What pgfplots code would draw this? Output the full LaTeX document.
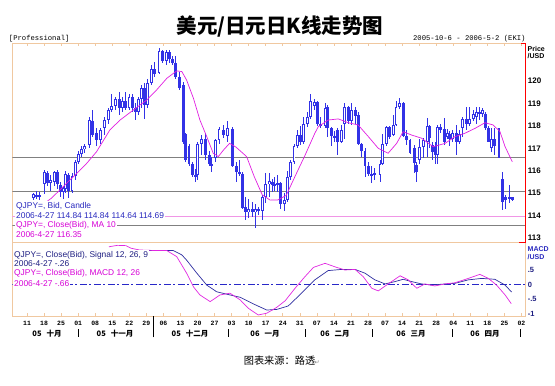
\documentclass[border=0pt]{standalone}
\usepackage{pgfplots}
\pgfplotsset{compat=1.18}
\usepackage{pgfplotstable}
\usepackage{fontspec}
\setmainfont{Liberation Sans}
\newfontfamily\mono{Liberation Mono}
\newfontfamily\cjk{Noto Sans CJK SC}
\newfontfamily\dejavu{DejaVu Sans}

\definecolor{frame}{RGB}{240,200,160}
\definecolor{cblue}{RGB}{50,50,230}
\definecolor{mamag}{RGB}{225,30,225}
\definecolor{sigblue}{RGB}{45,45,160}
\definecolor{macdmag}{RGB}{225,40,225}
\definecolor{gline}{RGB}{128,128,128}
\definecolor{pline}{RGB}{240,150,230}
\definecolor{zblue}{RGB}{40,40,200}
\definecolor{txtblue}{RGB}{40,40,190}
\definecolor{txtmag}{RGB}{215,0,215}
\definecolor{txtnavy}{RGB}{30,30,130}

\pgfplotstableread{
x o h l c
0.0 113.70 114.10 113.50 113.95
1.0 113.95 114.30 113.80 114.20
2.0 114.20 114.55 113.95 114.10
3.0 114.10 114.60 114.00 114.45
4.8 114.80 115.00 114.70 114.95
5.7 114.90 115.10 114.75 114.85
6.7 114.85 115.05 114.70 114.90
8.1 115.40 116.05 114.95 115.95
9.1 115.90 116.00 115.30 115.45
10.0 115.45 115.80 115.10 115.60
11.0 115.50 116.00 115.30 115.95
11.9 115.95 116.05 115.20 115.40
12.9 115.35 115.50 114.85 115.05
13.7 115.05 115.30 114.75 115.25
14.4 115.20 116.00 115.00 115.85
15.2 115.80 115.90 114.80 115.10
16.2 115.10 115.90 115.00 115.75
17.2 115.75 116.50 115.60 116.40
18.1 116.40 116.90 116.30 116.75
18.9 116.75 117.10 116.60 116.95
19.9 116.95 117.20 116.80 117.10
21.2 117.15 118.40 117.00 118.25
22.3 118.20 118.70 117.50 117.60
23.5 117.70 117.90 117.10 117.35
24.5 117.35 117.90 117.20 117.80
25.7 117.90 118.40 117.60 118.25
27.0 118.25 118.80 118.10 118.70
27.9 118.70 119.40 118.60 118.90
28.9 118.90 119.30 118.70 119.20
30.0 119.20 119.50 118.50 118.80
31.0 118.80 119.30 118.60 119.10
31.9 119.10 119.50 118.70 118.80
32.9 118.80 119.40 118.70 119.30
33.8 119.30 119.40 118.60 118.80
34.7 118.80 119.00 118.25 118.60
35.6 118.60 119.30 118.50 119.20
36.5 119.20 119.80 118.80 119.70
37.4 119.70 119.90 118.30 118.95
38.4 118.95 120.10 118.80 119.90
39.6 119.90 120.70 119.80 120.55
40.5 120.55 120.85 120.20 120.30
41.7 120.35 121.45 120.30 121.35
42.7 121.35 121.40 120.80 120.90
43.9 120.90 121.40 120.70 121.30
44.8 121.30 121.40 120.80 121.00
45.7 121.00 121.10 120.70 120.80
46.5 120.80 121.10 120.10 120.20
47.6 120.20 120.40 119.60 119.70
48.9 119.80 119.95 117.20 117.30
49.6 117.65 117.70 116.40 116.50
50.5 117.10 117.20 116.20 116.30
51.5 116.30 116.40 115.70 115.80
52.3 115.80 116.10 115.50 115.70
53.0 115.80 117.30 115.60 117.20
54.2 117.20 117.60 116.70 117.40
55.4 117.40 117.70 116.50 116.70
56.4 116.70 116.90 116.20 116.30
57.1 116.30 116.60 115.95 116.20
58.3 116.55 117.40 116.40 117.35
59.3 117.35 117.95 117.20 117.85
60.5 117.80 118.05 117.45 117.60
61.9 117.55 118.20 117.30 117.90
63.2 117.85 117.95 116.15 116.20
64.4 116.20 116.40 115.50 115.95
65.2 115.95 116.50 115.75 115.85
66.1 115.85 115.95 114.30 114.35
67.1 114.40 114.85 113.80 114.15
68.0 114.15 114.75 113.90 114.30
69.1 114.30 114.60 113.95 114.15
70.0 114.15 114.50 113.45 114.30
71.0 114.30 114.40 114.05 114.20
72.0 114.20 114.90 113.80 114.85
73.0 114.85 115.90 114.55 115.40
74.0 115.40 115.90 114.85 115.55
74.9 115.50 115.65 115.05 115.35
75.7 115.35 115.70 115.10 115.40
76.4 115.40 115.80 115.05 115.45
77.4 115.45 115.50 114.30 114.50
78.4 114.50 115.00 114.20 114.70
79.3 114.70 116.00 114.60 115.70
80.3 115.70 116.50 115.60 116.40
81.3 116.40 117.20 116.30 117.10
82.3 117.10 117.80 117.00 117.60
83.2 117.60 118.00 117.15 117.30
84.2 117.30 118.40 117.20 118.10
85.2 118.10 118.60 117.95 118.40
86.2 118.40 119.40 118.30 119.10
87.2 118.90 119.20 118.70 119.05
88.1 119.05 119.10 118.00 118.10
89.1 118.10 118.40 117.90 118.00
90.4 118.00 119.00 117.90 118.80
91.2 118.85 118.95 117.50 117.90
92.3 117.90 117.95 117.10 117.55
93.1 117.55 117.75 117.30 117.45
94.1 117.80 117.90 116.70 117.30
95.3 117.30 118.05 117.25 117.80
96.2 118.10 119.00 117.40 118.85
97.2 118.85 118.90 118.10 118.20
98.2 118.20 119.00 118.05 118.70
99.2 118.70 118.85 118.10 118.45
100.1 118.50 118.60 117.15 117.20
101.1 117.20 117.25 116.60 116.90
102.1 116.90 117.00 115.70 116.20
103.1 116.20 116.40 115.75 115.85
104.1 115.85 116.20 115.45 115.80
105.0 115.80 116.10 115.60 115.90
106.5 115.80 116.50 115.50 116.30
107.3 116.30 117.65 116.25 117.20
108.5 117.20 118.00 117.10 117.95
109.4 117.95 118.00 117.40 117.50
110.4 117.60 118.50 117.55 118.05
111.2 118.05 119.10 118.00 118.85
112.2 118.85 119.25 118.75 119.00
113.3 119.00 119.05 117.50 117.55
114.3 117.55 117.80 117.15 117.35
115.3 117.35 117.40 116.75 116.80
116.6 117.00 117.15 115.90 116.35
117.3 116.25 116.40 115.50 115.95
118.2 116.50 117.40 116.30 117.05
119.2 117.05 117.45 116.55 117.35
120.4 117.30 118.35 116.60 118.00
121.1 118.00 118.05 117.00 117.45
122.0 117.15 117.30 116.50 116.85
122.8 117.10 117.30 116.30 116.70
123.5 116.70 118.05 116.30 117.95
124.3 117.95 118.10 117.70 117.80
125.5 117.85 118.35 117.15 117.30
126.2 117.50 117.85 117.40 117.70
127.0 117.65 117.75 117.10 117.40
127.9 117.40 117.80 117.30 117.70
128.9 117.70 118.05 116.70 117.30
129.9 117.30 117.80 117.20 117.65
130.8 117.90 118.40 117.50 118.30
131.8 118.30 118.85 117.80 118.10
132.8 118.10 118.85 118.00 118.30
133.8 118.30 118.70 118.20 118.55
134.7 118.40 118.85 118.10 118.60
135.7 118.60 118.85 118.25 118.55
136.5 118.55 118.80 118.40 118.70
137.5 118.55 118.60 117.80 117.90
138.2 117.90 118.00 117.30 117.30
139.1 117.00 117.90 116.85 117.40
140.1 117.40 117.90 116.70 117.10
141.4 117.90 117.90 116.55 116.55
142.4 115.65 115.95 114.25 114.60
143.2 114.85 114.90 114.30 114.70
144.5 114.75 115.35 114.55 114.85
145.3 114.84 114.84 114.64 114.69
}\candles

\begin{document}
\begin{tikzpicture}[x=1pt,y=1pt]
\useasboundingbox (0,0) rectangle (555,386);

% ---------------- price panel ----------------
\begin{axis}[
  at={(12.3pt,143.7pt)}, anchor=south west, scale only axis,
  width=513.4pt, height=199pt,
  xmin=-1.32, xmax=149.24, ymin=112.81, ymax=121.68,
  axis line style={draw=frame, line width=0.8pt},
  xtick={3,8,...,148}, xticklabels={}, xtick pos=right,
  ytick={113,114,...,120}, yticklabels={113,114,115,116,117,118,119,120},
  ytick pos=right, yticklabel pos=right,
  tick align=inside, major tick length=3pt,
  xtick style={draw=frame, line width=0.6pt},
  ytick style={draw=none},
  yticklabel style={font=\fontsize{8}{9}\selectfont\bfseries, anchor=west, inner xsep=0pt, xshift=2pt},
]
\addplot[gline, line width=0.8pt] coordinates {(-2,116.6) (150,116.6)};
\addplot[gline, line width=0.8pt] coordinates {(-2,115.07) (150,115.07)};
\addplot[gline, line width=0.8pt] coordinates {(-2,113.57) (150,113.57)};
\addplot[pline, line width=0.8pt] coordinates {(-2,113.95) (150,113.95)};
% wicks
\addplot[draw=none, mark=none, error bars/.cd, y dir=both, y explicit, error mark=none,
  error bar style={draw=cblue, line width=0.9pt}]
  table[x=x, y expr={(\thisrow{h}+\thisrow{l})/2}, y error expr={(\thisrow{h}-\thisrow{l})/2}] {\candles};
% bodies
\addplot[draw=none, mark=none, error bars/.cd, y dir=both, y explicit, error mark=none,
  error bar style={draw=cblue, line width=2.9pt}]
  table[x=x, y expr={(\thisrow{o}+\thisrow{c})/2}, y error expr={max(abs(\thisrow{c}-\thisrow{o})/2,0.025)}] {\candles};
% hollow inside of rising candles
\addplot[draw=none, mark=none, restrict expr to domain={\thisrow{c}-\thisrow{o}}{0.15:100},
  error bars/.cd, y dir=both, y explicit, error mark=none,
  error bar style={draw=white, line width=0.9pt}]
  table[x=x, y expr={(\thisrow{o}+\thisrow{c})/2}, y error expr={(\thisrow{c}-\thisrow{o})/2-0.045}] {\candles};
% MA 10
\addplot[mamag, line width=0.7pt] coordinates {
(9.0,114.65) (10.2,114.78) (15.6,115.59) (17.6,115.88) (20.5,116.33) (23.4,116.85) (27.3,117.82)
(30.3,118.26) (34.2,118.71) (38.1,119.15) (41.0,119.6) (44.0,120.12) (46.9,120.45)
(48.4,120.42) (49.8,120.04) (51.8,119.23) (53.7,118.26) (55.7,117.52) (57.6,116.78)
(59.1,116.63) (60.6,116.92) (62.4,117.22) (64.3,117.05) (67.4,116.63) (69.6,115.75)
(72.0,114.92) (74.3,114.69) (76.6,114.70) (79.0,114.90) (81.6,115.75) (84.5,116.68)
(87.4,117.67) (88.4,117.96) (91.3,118.26) (94.3,118.31) (97.2,118.14) (100.1,118.04)
(103.1,117.52) (106.0,117.00) (108.9,116.78) (111.4,117.22) (113.3,117.74) (115.8,117.59)
(118.7,117.45) (122.1,117.07) (125.6,117.22) (128.5,117.52) (131.4,117.67) (134.4,117.89)
(137.3,118.14) (139.7,118.04) (141.7,117.74) (143.2,117.07) (145.3,116.40)};
\end{axis}

% ---------------- MACD panel ----------------
\begin{axis}[
  at={(12.3pt,69.5pt)}, anchor=south west, scale only axis,
  width=513.4pt, height=74.2pt,
  xmin=-1.32, xmax=149.24, ymin=-1.103, ymax=1.455,
  axis line style={draw=frame, line width=0.8pt},
  xtick={3,8,...,148},
  xticklabels={11,18,25,01,08,15,22,29,06,13,20,27,03,10,17,24,31,07,14,21,28,07,14,21,28,04,11,18,25,02},
  xtick pos=left,
  ytick={-1,-0.5,0,0.5}, yticklabels={-1,-.5,0,.5},
  ytick pos=right, yticklabel pos=right,
  tick align=inside, major tick length=3pt,
  xtick style={draw=frame, line width=0.6pt},
  ytick style={draw=none},
  xticklabel style={font=\mono\bfseries\fontsize{6.5}{7}\selectfont, yshift=-1.5pt},
  yticklabel style={font=\fontsize{7.5}{8}\selectfont\bfseries, text=txtnavy, anchor=west, inner xsep=0pt, xshift=2pt},
]
\addplot[zblue, line width=0.8pt, dash pattern=on 7pt off 2.5pt on 2pt off 2.5pt] coordinates {(-2,0) (150,0)};
\addplot[sigblue, line width=0.7pt] coordinates {
(28,1.10) (31,1.14) (35,1.17) (41.0,1.17) (45.9,1.17) (48.4,1.02) (49.8,0.84) (52.8,0.39)
(55.7,-0.02) (58.6,-0.25) (62.5,-0.36) (65.5,-0.44) (69.4,-0.67) (73.3,-0.88) (76.2,-0.86)
(79.6,-0.74) (83.5,-0.30) (87.4,0.16) (91.3,0.48) (95.3,0.52) (99.2,0.52) (102.1,0.39)
(105.0,0.16) (108.0,0.02) (110.9,0.10) (113.3,0.18) (115.8,0.10) (118.7,0.02) (121.7,-0.02)
(124.6,0.01) (128.5,0.04) (132.4,0.16) (136.3,0.21) (140.2,0.18) (143.2,-0.02) (145.1,-0.26)};
\addplot[macdmag, line width=0.7pt] coordinates {
(27,1.30) (29.5,1.35) (32,1.34) (33.5,1.25) (36,1.19) (41.0,1.17) (44.0,1.17) (46.9,0.96)
(49.8,0.39) (51.8,-0.08) (53.7,-0.36) (56.7,-0.59) (59.6,-0.36) (62.5,-0.30) (65.5,-0.53)
(67.9,-0.82) (70.8,-1.05) (73.3,-0.99) (76.2,-0.79) (78.7,-0.56) (81.6,-0.13) (84.5,0.27)
(87.0,0.59) (90.4,0.73) (93.3,0.61) (96.2,0.50) (99.2,0.52) (101.6,0.27) (104.1,-0.13)
(106.0,-0.22) (108.9,0.02) (112.4,0.30) (114.8,0.16) (117.3,-0.13) (119.7,0.02) (122.6,-0.05)
(125.6,0.02) (128.5,0.06) (132.4,0.21) (135.8,0.35) (138.3,0.21) (140.7,-0.02) (143.2,-0.36)
(145.0,-0.66)};
\end{axis}

% right red price axis
\draw[red, line width=0.9pt] (521,342.7) -- (525.7,342.7) -- (525.7,143.7) -- (519,143.7);

% right labels
\node[anchor=west, inner sep=0pt, font=\fontsize{7}{7}\selectfont\bfseries] at (527.5,337.2) {Price};
\node[anchor=west, inner sep=0pt, font=\fontsize{7}{7}\selectfont\bfseries] at (527.5,329.7) {/USD};
\node[anchor=west, inner sep=0pt, font=\fontsize{7}{7}\selectfont\bfseries, text=txtblue] at (527.5,137.2) {MACD};
\node[anchor=west, inner sep=0pt, font=\fontsize{7}{7}\selectfont\bfseries, text=txtblue] at (527.5,129.3) {/USD};

% legends (price)
\tikzset{leg/.style={anchor=base west, fill=white, inner xsep=1pt, inner ysep=0.4pt,
  text height=6.8pt, text depth=2.2pt, font=\fontsize{8.4}{9}\selectfont}}
\node[leg, text=txtblue] at (15,177.5) {QJPY=, Bid, Candle};
\node[leg, text=txtblue] at (15,167.5) {2006-4-27 114.84 114.84 114.64 114.69};
\node[leg, text=txtmag] at (15,158.0) {QJPY=, Close(Bid), MA 10};
\node[leg, text=txtmag] at (15,148.3) {2006-4-27 116.35};
% legends (MACD)
\node[leg, text=txtnavy] at (13,128.7) {QJPY=, Close(Bid), Signal 12, 26, 9};
\node[leg, text=txtnavy] at (13,119.3) {2006-4-27 -.26};
\node[leg, text=txtmag] at (13,110.0) {QJPY=, Close(Bid), MACD 12, 26};
\node[leg, text=txtmag] at (13,99.7) {2006-4-27 -.66};

% month labels
\tikzset{mon/.style={font=\cjk\bfseries\fontsize{7.5}{8}\selectfont, inner sep=0pt}}
\node[mon] at (47,52) {05\hspace{5pt}十月};
\node[mon] at (115,52) {05\hspace{5pt}十一月};
\node[mon] at (190,52) {05\hspace{5pt}十二月};
\node[mon] at (265,52) {06\hspace{5pt}一月};
\node[mon] at (335,52) {06\hspace{5pt}二月};
\node[mon] at (411,52) {06\hspace{5pt}三月};
\node[mon] at (485,52) {06\hspace{5pt}四月};
\foreach \sx in {78,228,305,372,452,520} {\draw[black, line width=0.7pt] (\sx,49) -- (\sx,56.5);}
\draw[black, line width=0.7pt] (153,48.5) -- (153,69.5);

% headers
\node[font=\cjk\bfseries\fontsize{20.5}{22}\selectfont] at (280,359.5) {美元/日元日K线走势图};
\node[anchor=west, inner sep=0pt, font=\mono\fontsize{7.2}{8}\selectfont] at (8.8,347.5) {[Professional]};
\node[anchor=east, inner sep=0pt, font=\mono\fontsize{7.2}{8}\selectfont] at (525.7,347.5) {2005-10-6 - 2006-5-2 (EKI)};

% source
\node[font=\cjk\fontsize{10.2}{11}\selectfont, inner sep=0pt] at (279.5,25) {图表来源：路透};
\node[anchor=west, font=\dejavu\fontsize{6}{6}\selectfont, text=gray, inner sep=0pt] at (314.5,23.5) {↵};
\end{tikzpicture}
\end{document}
